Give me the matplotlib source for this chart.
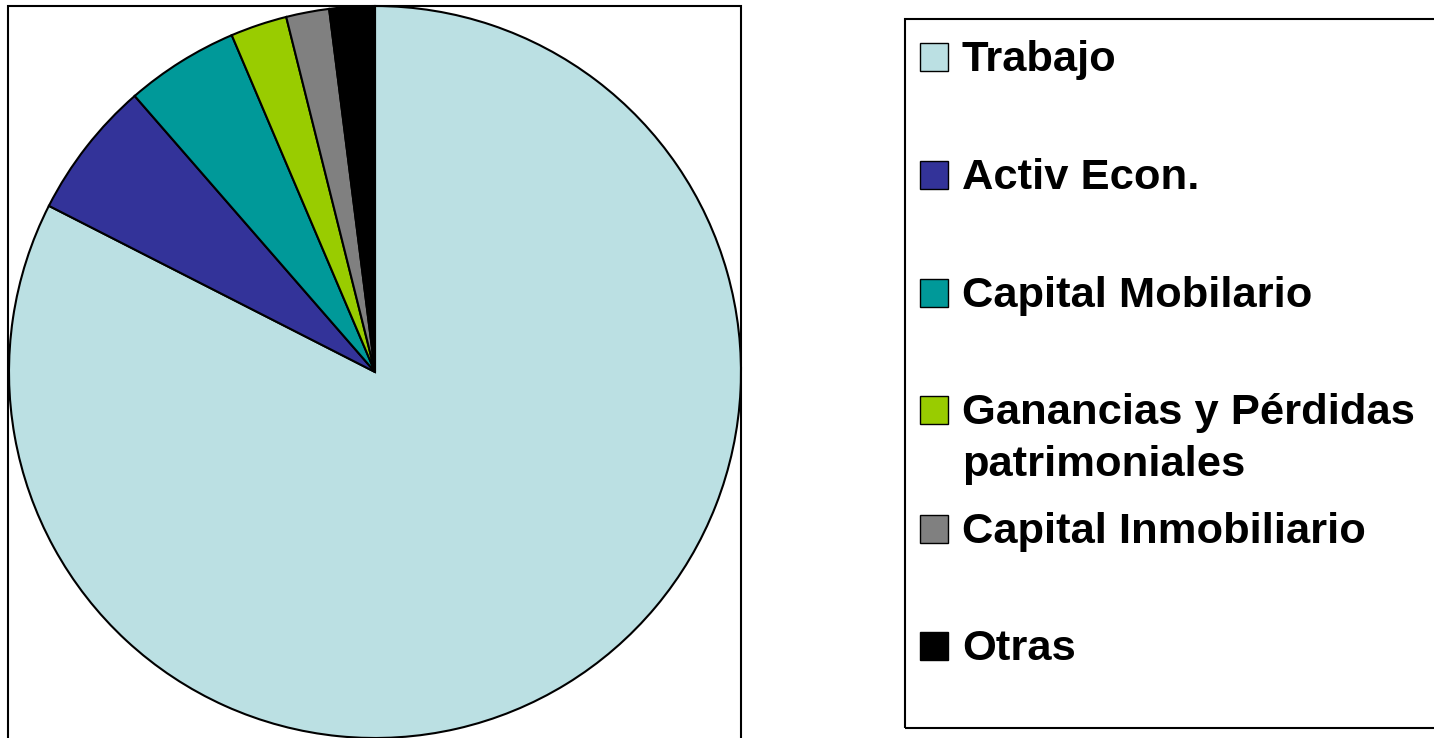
#!/usr/bin/env python

import matplotlib
matplotlib.use('Agg')
import matplotlib.pyplot as plt
from matplotlib.patches import Rectangle

# Data (percent shares)
labels = ['Trabajo', 'Activ Econ.', 'Capital Mobilario',
          'Ganancias y Pérdidas\npatrimoniales', 'Capital Inmobiliario', 'Otras']
values = [82.5, 6.1, 5.0, 2.5, 1.9, 2.0]
colors = ['#BBE0E3', '#333399', '#009999', '#99CC00', '#808080', '#000000']

# legend row centres, in pixels from the top
legend_rows = [57, 175, 293, 410, 529, 646]


def main():
    W, H = 1434, 738
    fig = plt.figure(figsize=(W / 100, H / 100), dpi=100)
    plt.rcParams['font.family'] = ['Liberation Sans', 'DejaVu Sans']

    # pie, clockwise from 12 o'clock
    ax = fig.add_axes([9 / W, 0, 732 / W, 732 / H])
    ax.pie(values, colors=colors, startangle=90, counterclock=False,
           wedgeprops=dict(edgecolor='black', linewidth=1.5))
    ax.set_xlim(-1, 1)
    ax.set_ylim(-1, 1)
    ax.set_aspect('equal')
    ax.axis('off')

    # plot area frame
    fig.patches.append(Rectangle((8 / W, -2 / H), 733 / W, 734 / H,
                                 transform=fig.transFigure, fill=False,
                                 edgecolor='black', linewidth=1.5))

    # legend box
    fig.patches.append(Rectangle((905 / W, (H - 728) / H), 540 / W, 709 / H,
                                 transform=fig.transFigure, fill=False,
                                 edgecolor='black', linewidth=1.5))

    for lab, col, yc in zip(labels, colors, legend_rows):
        fig.patches.append(Rectangle((920 / W, (H - yc - 14) / H), 28 / W, 28 / H,
                                     transform=fig.transFigure, facecolor=col,
                                     edgecolor='black', linewidth=1.0))
        fig.text(962 / W, (H - yc + 17) / H, lab, fontsize=31.3, fontweight='bold',
                 va='top', ha='left', linespacing=1.38)

    fig.savefig('out.png', dpi=100)


if __name__ == '__main__':
    main()
